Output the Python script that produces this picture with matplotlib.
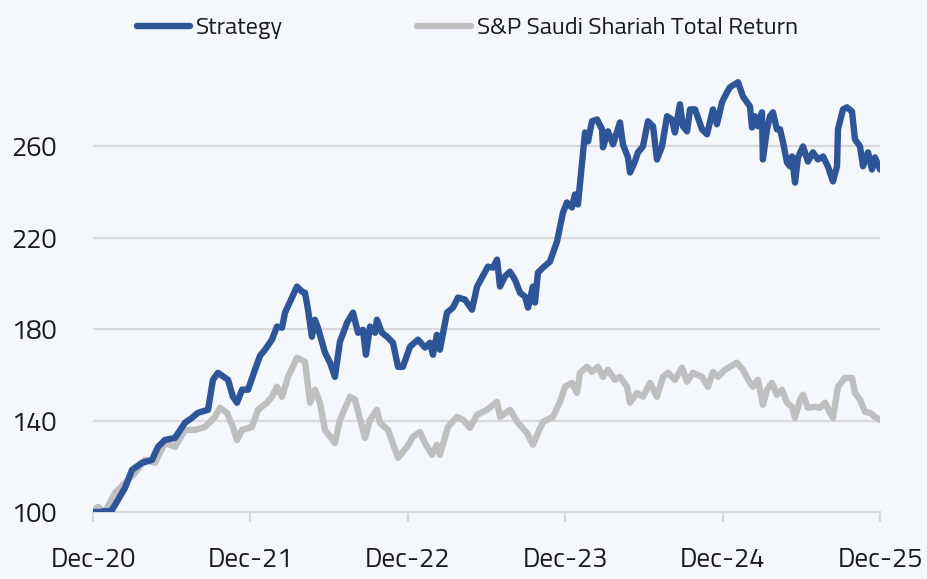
import matplotlib
matplotlib.use("Agg")
import matplotlib.pyplot as plt

# ---- data (decimal years: 2021.0 == end of Dec-20) ----
strategy_t = [0.000, 0.044, 0.076, 0.108, 0.121, 0.159, 0.203, 0.248, 0.311, 0.375,
              0.413, 0.457, 0.521, 0.584, 0.629, 0.667, 0.731, 0.762, 0.794, 0.858,
              0.889, 0.915, 0.947, 0.985, 1.029, 1.061, 1.093, 1.137, 1.169, 1.201,
              1.220, 1.252, 1.296, 1.328, 1.347, 1.366, 1.391, 1.410, 1.429, 1.474,
              1.506, 1.537, 1.569, 1.614, 1.652, 1.684, 1.715, 1.734, 1.760, 1.792,
              1.804, 1.836, 1.868, 1.906, 1.938, 1.969, 2.014, 2.065, 2.109, 2.141,
              2.160, 2.185, 2.204, 2.249, 2.287, 2.319, 2.363, 2.408, 2.440, 2.471,
              2.509, 2.541, 2.567, 2.586, 2.617, 2.649, 2.681, 2.713, 2.745, 2.764,
              2.795, 2.808, 2.827, 2.859, 2.903, 2.948, 2.986, 3.011, 3.043, 3.062,
              3.081, 3.107, 3.126, 3.145, 3.170, 3.202, 3.234, 3.240, 3.272, 3.304,
              3.348, 3.367, 3.399, 3.412, 3.443, 3.462, 3.494, 3.526, 3.558, 3.583,
              3.615, 3.647, 3.678, 3.697, 3.729, 3.748, 3.774, 3.793, 3.825, 3.869,
              3.901, 3.939, 3.964, 3.996, 4.028, 4.047, 4.098, 4.129, 4.155, 4.174,
              4.187, 4.206, 4.225, 4.250, 4.256, 4.282, 4.301, 4.320, 4.345, 4.365,
              4.384, 4.409, 4.428, 4.441, 4.460, 4.479, 4.511, 4.542, 4.574, 4.606,
              4.638, 4.669, 4.701, 4.727, 4.733, 4.765, 4.790, 4.822, 4.841, 4.873,
              4.892, 4.924, 4.949, 4.968, 5.000]
strategy_v = [100.0, 100.0, 100.4, 100.4, 100.9, 105.3, 110.5, 118.4, 121.5, 122.8,
              128.5, 131.5, 132.4, 139.0, 141.2, 143.4, 144.7, 157.8, 160.9, 157.8,
              150.4, 147.8, 153.5, 153.5, 162.2, 168.3, 171.0, 175.4, 181.1, 180.6,
              187.2, 192.0, 198.6, 196.4, 195.9, 188.5, 176.7, 184.1, 180.6, 169.7,
              165.3, 159.1, 174.5, 182.8, 187.2, 178.4, 179.7, 168.8, 181.1, 178.4,
              184.1, 178.4, 176.7, 174.0, 163.5, 163.5, 172.3, 175.4, 171.9, 174.0,
              168.8, 177.5, 171.0, 187.2, 189.4, 193.8, 192.9, 188.5, 198.6, 202.5,
              207.3, 206.9, 210.4, 198.6, 203.0, 205.1, 201.6, 195.9, 194.2, 189.4,
              198.6, 191.6, 204.7, 206.9, 209.5, 218.3, 231.0, 235.4, 233.2, 238.9,
              234.5, 252.9, 266.0, 262.1, 270.9, 271.7, 267.4, 259.5, 266.5, 260.8,
              270.4, 260.8, 255.1, 248.5, 253.3, 257.3, 259.9, 270.9, 268.7, 254.2,
              259.9, 273.1, 271.7, 266.0, 278.3, 268.7, 266.5, 276.1, 276.1, 267.4,
              265.2, 276.1, 269.6, 279.2, 283.6, 285.8, 288.0, 281.8, 279.2, 277.4,
              268.2, 273.1, 268.7, 274.8, 254.2, 267.4, 273.1, 274.8, 267.4, 267.4,
              261.7, 252.9, 251.2, 255.5, 244.1, 255.1, 259.9, 253.3, 257.3, 254.2,
              255.5, 251.2, 244.6, 251.2, 267.4, 276.1, 277.0, 275.2, 263.0, 259.9,
              251.2, 257.3, 249.8, 255.1, 249.8]

benchmark_t = [0.000, 0.032, 0.076, 0.140, 0.203, 0.267, 0.330, 0.394, 0.457, 0.521,
               0.584, 0.648, 0.712, 0.775, 0.807, 0.851, 0.889, 0.915, 0.947, 1.010,
               1.048, 1.105, 1.137, 1.169, 1.201, 1.239, 1.296, 1.347, 1.379, 1.410,
               1.442, 1.474, 1.537, 1.569, 1.633, 1.665, 1.728, 1.760, 1.804, 1.823,
               1.874, 1.938, 1.995, 2.033, 2.077, 2.109, 2.154, 2.185, 2.204, 2.255,
               2.312, 2.351, 2.395, 2.440, 2.503, 2.567, 2.586, 2.649, 2.700, 2.757,
               2.795, 2.827, 2.859, 2.922, 2.967, 2.999, 3.043, 3.075, 3.094, 3.138,
               3.170, 3.208, 3.240, 3.272, 3.316, 3.348, 3.393, 3.412, 3.456, 3.494,
               3.539, 3.583, 3.621, 3.653, 3.697, 3.742, 3.774, 3.812, 3.869, 3.907,
               3.939, 3.971, 4.015, 4.047, 4.091, 4.129, 4.174, 4.193, 4.225, 4.256,
               4.282, 4.314, 4.345, 4.377, 4.409, 4.441, 4.460, 4.492, 4.511, 4.542,
               4.587, 4.619, 4.651, 4.682, 4.701, 4.733, 4.777, 4.822, 4.841, 4.873,
               4.905, 4.936, 4.968, 5.000]
benchmark_v = [100.0, 102.2, 100.0, 108.3, 112.7, 117.1, 122.8, 121.5, 130.2, 128.5,
               135.9, 135.9, 137.2, 141.6, 145.6, 143.4, 137.2, 131.5, 135.9, 137.2,
               144.7, 147.8, 150.4, 154.8, 150.4, 159.1, 167.5, 165.7, 147.8, 153.5,
               147.8, 135.9, 130.2, 140.3, 150.4, 149.1, 132.4, 140.3, 144.7, 139.0,
               135.9, 123.7, 128.5, 132.9, 135.0, 130.2, 125.0, 129.4, 125.0, 137.2,
               141.6, 140.3, 136.8, 142.5, 144.7, 148.2, 141.6, 144.7, 139.0, 134.6,
               129.4, 134.6, 139.4, 141.6, 148.2, 154.8, 156.5, 152.1, 160.9, 163.5,
               161.3, 163.5, 159.1, 162.2, 157.8, 159.1, 154.8, 147.8, 152.1, 150.4,
               156.5, 150.4, 159.1, 160.9, 157.8, 163.1, 157.0, 160.9, 159.1, 154.8,
               161.3, 159.1, 162.2, 163.5, 165.3, 162.2, 156.5, 154.8, 157.8, 146.9,
               153.5, 156.5, 151.3, 153.5, 147.8, 146.0, 141.2, 149.1, 151.3, 145.6,
               146.0, 145.6, 147.8, 143.4, 141.2, 154.8, 158.7, 158.7, 152.1, 149.1,
               143.8, 143.4, 141.6, 140.3]

start_year = 2021.0
tick_years = [2021, 2022, 2023, 2024, 2025, 2026]
tick_labels = ["Dec-20", "Dec-21", "Dec-22", "Dec-23", "Dec-24", "Dec-25"]
y_ticks = [100, 140, 180, 220, 260]
series_names = ["Strategy", "S&P Saudi Shariah Total Return"]

# ---- styling ----
bg = "#F4F7FC"
blue = "#2E5597"
grey = "#BFBFBF"
gridc = "#D9D9D9"
txt = "#1a1a1a"
font = ["Titillium Web", "DejaVu Sans"]

fig = plt.figure(figsize=(9.27, 5.79), dpi=100, facecolor=bg)
ax = fig.add_axes([0.1003, 0.1157, 0.849, 0.77], facecolor=bg)

x_s = [start_year + t for t in strategy_t]
x_b = [start_year + t for t in benchmark_t]
ax.plot(x_b, benchmark_v, color=grey, lw=4.6, solid_joinstyle="round",
        solid_capstyle="round", label=series_names[1], zorder=3)
ax.plot(x_s, strategy_v, color=blue, lw=4.6, solid_joinstyle="round",
        solid_capstyle="round", label=series_names[0], zorder=4)

ax.set_xlim(2021, 2026)
ax.set_ylim(100, 295)
ax.set_yticks(y_ticks)
ax.set_xticks(tick_years)
ax.set_xticklabels(tick_labels)
for s in ["top", "right", "left"]:
    ax.spines[s].set_visible(False)
ax.spines["bottom"].set_color(gridc)
ax.spines["bottom"].set_linewidth(1.6)
ax.spines["bottom"].set_zorder(1)
ax.grid(axis="y", color=gridc, lw=1.6, zorder=0)
ax.set_axisbelow(True)

ax.tick_params(axis="y", length=0, pad=26, labelsize=19.5, labelcolor=txt)
ax.tick_params(axis="x", length=7, width=1.6, color=gridc, direction="out",
               pad=18, labelsize=19.5, labelcolor=txt)
for lab in ax.get_yticklabels() + ax.get_xticklabels():
    lab.set_fontfamily(font)

h, l = ax.get_legend_handles_labels()
order = [1, 0]
leg = fig.legend([h[i] for i in order], [l[i] for i in order], loc="center",
                 bbox_to_anchor=(0.504, 0.951), ncol=2, frameon=False,
                 handlelength=2.2, handletextpad=0.25, columnspacing=5.5,
                 prop={"family": font, "size": 17.5})
for t in leg.get_texts():
    t.set_color(txt)

fig.savefig("out.png", dpi=100, facecolor=bg)
